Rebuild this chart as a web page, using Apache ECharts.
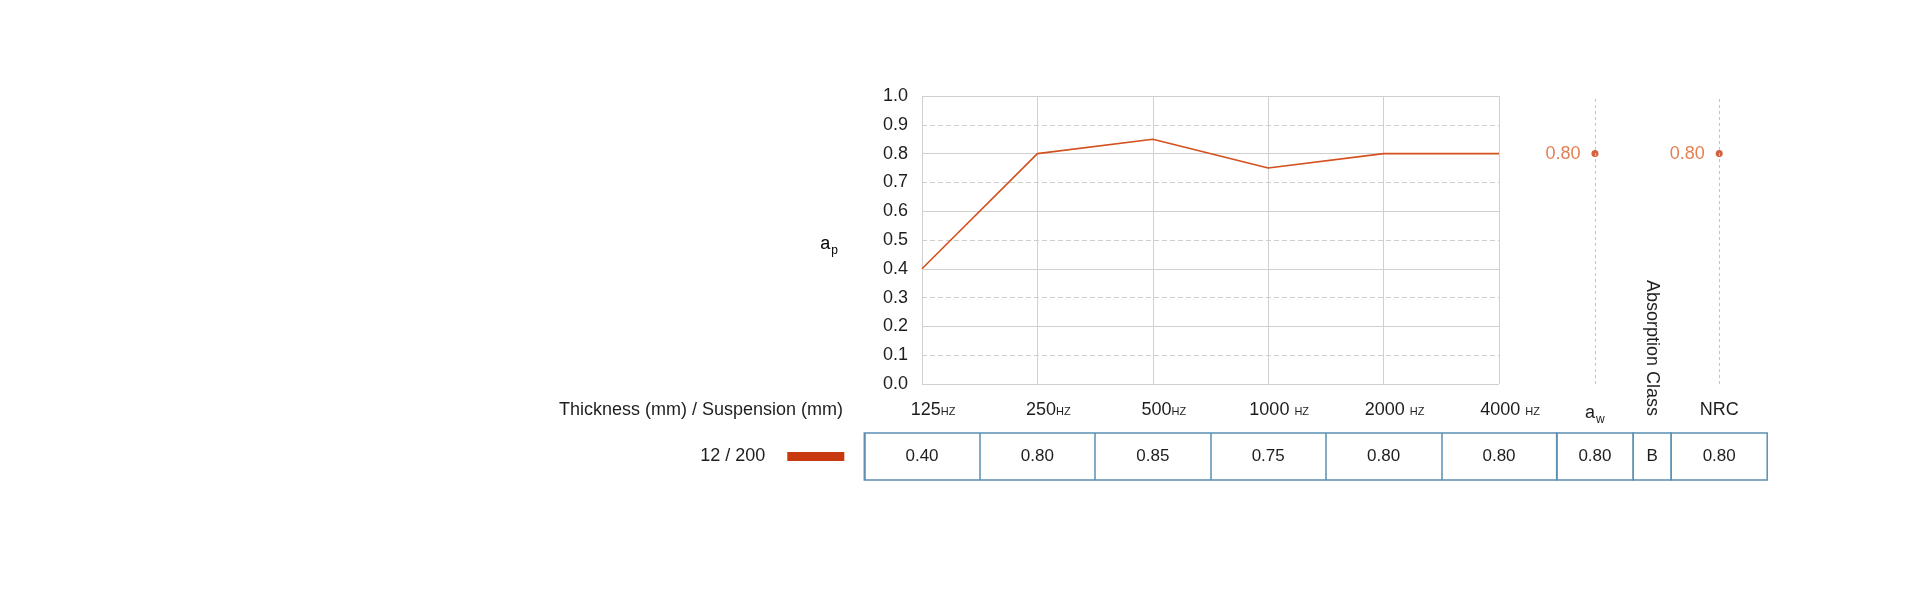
<!DOCTYPE html>
<html><head><meta charset="utf-8">
<script src="https://cdn.jsdelivr.net/npm/echarts@6/dist/echarts.min.js"></script>
<style>html,body{margin:0;padding:0;background:#fff}#c{width:1920px;height:599px}</style>
</head><body><div id="c"></div>
<script>
// ---- data ----
const categories = ['125Hz', '250Hz', '500Hz', '1000 Hz', '2000 Hz', '4000 Hz'];
const alphaP = [0.40, 0.80, 0.85, 0.75, 0.80, 0.80];
const alphaW = [0.80];
const absorptionClass = ['B'];
const nrc = [0.80];
const seriesLabel = '12 / 200';
const legendTitle = 'Thickness (mm) / Suspension (mm)';
const awName = 'a_w';
const className = 'Absorption Class';
const nrcName = 'NRC';

// ---- layout ----
const FONT = 'Liberation Sans, Arial, sans-serif';
const TXT = '#1e1e1e';
const plotLeft = 922, plotTop = 96, plotH = 288, colW = 115.4;
const tableTop = 433, tableH = 47;
const tableLeft = plotLeft - colW / 2;
const awLeft = tableLeft + 6 * colW, awW = 76.5;
const clsLeft = awLeft + awW, clsW = 38;
const nrcLeft = clsLeft + clsW, nrcW = 96;
const BORDER = '#5b8fb3';
const LINE = '#d4501e';
const FS = 18;
const TFS = 17;

const chart = echarts.init(document.getElementById('c'), null, {renderer: 'canvas'});

const hidden = {axisLine: {show: false}, axisTick: {show: false}, axisLabel: {show: false}, splitLine: {show: false}};
const subRich = {
  a: {fontSize: 18, fontFamily: FONT, color: TXT, lineHeight: 19, verticalAlign: 'top'},
  s: {fontSize: 12, fontFamily: FONT, color: TXT, lineHeight: 12, padding: [10, 0, 0, 1], verticalAlign: 'top'}
};
const cellLabel = {show: true, position: 'inside', color: TXT, fontSize: TFS, fontFamily: FONT,
  textBorderWidth: 0, textBorderColor: 'transparent', opacity: 1};
const tableGrid = (left, width) => ({left, width, top: tableTop, height: tableH, show: true, borderColor: BORDER, borderWidth: 1.5, backgroundColor: '#fff'});
const topAxis = (grid, data, label) => ({type: 'category', gridIndex: grid, data, position: 'top', boundaryGap: true,
  axisLine: {show: false}, axisTick: {show: false}, splitLine: {show: false}, axisLabel: label});
const cellSeries = (xi, yi, data, fmt) => ({type: 'scatter', xAxisIndex: xi, yAxisIndex: yi, symbolSize: 1,
  itemStyle: {color: '#fff', opacity: 0}, data, label: Object.assign({formatter: fmt}, cellLabel), z: 10});

const option = {
  animation: false,
  backgroundColor: '#fff',
  textStyle: {fontFamily: FONT},
  grid: [
    {left: plotLeft, top: plotTop, width: 5 * colW, height: plotH},
    {left: awLeft, top: plotTop, width: awW, height: plotH},
    {left: nrcLeft, top: plotTop, width: nrcW, height: plotH},
    tableGrid(tableLeft, 6 * colW),
    tableGrid(awLeft, awW),
    tableGrid(clsLeft, clsW),
    tableGrid(nrcLeft, nrcW)
  ],
  xAxis: [
    {type: 'category', gridIndex: 0, data: categories, boundaryGap: false,
     axisLine: {show: false}, axisTick: {show: false}, axisLabel: {show: false},
     splitLine: {show: true, lineStyle: {color: '#d0d0d0', width: 1}}},
    Object.assign({type: 'category', gridIndex: 1, data: [awName], boundaryGap: true}, hidden),
    Object.assign({type: 'category', gridIndex: 2, data: [nrcName], boundaryGap: true}, hidden),
    Object.assign(topAxis(3, categories, {
      margin: 14, padding: [0, 0, 0, 22],
      formatter: v => { const m = v.match(/^(\d+)(\s?)Hz$/); return '{n|' + m[1] + m[2] + '}{u|HZ}'; },
      rich: {n: {fontSize: FS, fontFamily: FONT, color: TXT, verticalAlign: 'bottom'},
             u: {fontSize: 11, fontFamily: FONT, color: TXT, verticalAlign: 'bottom', padding: [0, 0, 2, 0]}}
    }), {splitLine: {show: true, lineStyle: {color: BORDER, width: 1.5}}}),
    topAxis(4, [awName], {margin: 10, formatter: v => '{a|' + v.split('_')[0] + '}{s|' + v.split('_')[1] + '}', rich: subRich}),
    topAxis(5, [className], {margin: 17, rotate: 90, fontSize: FS, fontFamily: FONT, color: TXT}),
    topAxis(6, [nrcName], {margin: 14, fontSize: FS, fontFamily: FONT, color: TXT})
  ],
  yAxis: [
    {type: 'value', gridIndex: 0, min: 0, max: 1, interval: 0.1,
     axisLine: {show: false}, axisTick: {show: false},
     axisLabel: {formatter: v => v.toFixed(1), fontSize: FS, color: TXT, fontFamily: FONT, margin: 14},
     splitLine: {show: true, lineStyle: {color: '#cfcfcf', type: [5, 3], width: 1}}},
    {type: 'value', gridIndex: 0, min: 0, max: 1, interval: 0.2, position: 'left',
     axisLine: {show: false}, axisTick: {show: false}, axisLabel: {show: false},
     splitLine: {show: true, lineStyle: {color: '#d0d0d0', width: 1}}},
    Object.assign({type: 'value', gridIndex: 1, min: 0, max: 1}, hidden),
    Object.assign({type: 'value', gridIndex: 2, min: 0, max: 1}, hidden),
    {type: 'category', gridIndex: 3, data: [seriesLabel], boundaryGap: true,
     axisLine: {show: false}, axisTick: {show: false}, splitLine: {show: false},
     axisLabel: {margin: 20, formatter: v => '{t|' + v + '}{bar|}',
       rich: {t: {fontSize: FS, fontFamily: FONT, color: TXT, padding: [0, 22, 0, 0]},
              bar: {width: 57, height: 9, backgroundColor: '#c9390f'}}}},
    Object.assign({type: 'category', gridIndex: 4, data: [seriesLabel]}, hidden),
    Object.assign({type: 'category', gridIndex: 5, data: [seriesLabel]}, hidden),
    Object.assign({type: 'category', gridIndex: 6, data: [seriesLabel]}, hidden)
  ],
  graphic: [
    {type: 'text', style: {text: legendTitle, x: 843, y: 410, align: 'right', verticalAlign: 'middle',
      fill: TXT, font: FS + 'px ' + FONT}},
    {type: 'text', style: {text: '{a|a}{s|p}', x: 838, y: 235, align: 'right', verticalAlign: 'top', rich: subRich}}
  ],
  series: [
    {type: 'line', name: seriesLabel, xAxisIndex: 0, yAxisIndex: 0, data: alphaP, symbol: 'none',
     lineStyle: {color: LINE, width: 1.6}, itemStyle: {color: LINE}, z: 5},
    ...[[1, 2, alphaW, awName], [2, 3, nrc, nrcName]].map(([xi, yi, d, nm]) => ({
      type: 'scatter', xAxisIndex: xi, yAxisIndex: yi, data: d, symbolSize: 7,
      itemStyle: {color: '#c8380f'},
      label: {show: true, position: 'left', distance: 11, formatter: p => p.value.toFixed(2),
        color: '#dc5f2a', fontSize: FS, fontFamily: FONT},
      markLine: {silent: true, symbol: 'none', label: {show: false},
        lineStyle: {color: '#c4c4c4', type: [3, 3], width: 1},
        data: [{xAxis: nm}]}
    })),
    cellSeries(3, 4, alphaP.map((v, i) => [categories[i], seriesLabel, v]), p => p.value[2].toFixed(2)),
    cellSeries(4, 5, alphaW.map(v => [awName, seriesLabel, v]), p => p.value[2].toFixed(2)),
    cellSeries(5, 6, absorptionClass.map(v => [className, seriesLabel, v]), p => p.value[2]),
    cellSeries(6, 7, nrc.map(v => [nrcName, seriesLabel, v]), p => p.value[2].toFixed(2))
  ]
};
chart.setOption(option);
</script></body></html>
